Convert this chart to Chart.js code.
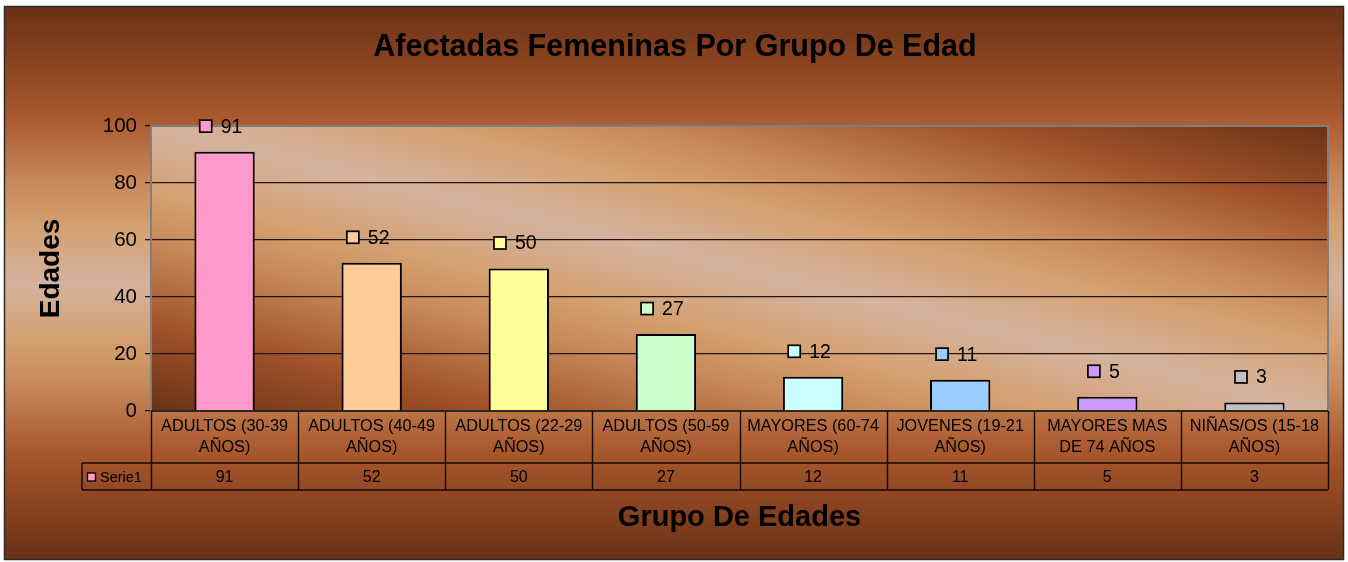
<!DOCTYPE html>
<html>
<head>
<meta charset="utf-8">
<script src="https://cdn.jsdelivr.net/npm/chart.js@4.4.0/dist/chart.umd.min.js"></script>
<style>
html,body{margin:0;padding:0;background:#ffffff;}
#wrap{width:1348px;height:562px;position:relative;}
</style>
</head>
<body>
<div id="wrap"><canvas id="c" width="1348" height="562"></canvas></div>
<script>
const chartTitle = 'Afectadas Femeninas Por Grupo De Edad';
const yAxisTitle = 'Edades';
const xAxisTitle = 'Grupo De Edades';
const seriesName = 'Serie1';
const categories = [
  ['ADULTOS (30-39', 'AÑOS)'],
  ['ADULTOS (40-49', 'AÑOS)'],
  ['ADULTOS (22-29', 'AÑOS)'],
  ['ADULTOS (50-59', 'AÑOS)'],
  ['MAYORES (60-74', 'AÑOS)'],
  ['JOVENES (19-21', 'AÑOS)'],
  ['MAYORES MAS', 'DE 74 AÑOS'],
  ['NIÑAS/OS (15-18', 'AÑOS)']
];
const values = [91, 52, 50, 27, 12, 11, 5, 3];
const barColors = ['#FF99CC', '#FFCC99', '#FFFF99', '#CCFFCC', '#CCFFFF', '#99CCFF', '#CC99FF', '#C0C0C0'];
const yTicks = [0, 20, 40, 60, 80, 100];

const FONT = '"Liberation Sans", Arial, Helvetica, sans-serif';
Chart.defaults.font.family = FONT;
Chart.defaults.color = '#000';

const bgStops = [
  [0.00, '#683116'], [0.10, '#8a4320'], [0.20, '#a9592d'], [0.32, '#c98a5c'],
  [0.40, '#d3a170'], [0.50, '#d5b29e'], [0.60, '#d3a170'], [0.68, '#c98a5c'],
  [0.80, '#a9592d'], [0.90, '#8a4320'], [1.00, '#683116']
];
const plotStops = [
  [0.00, '#6a3216'], [0.15, '#a0512a'], [0.30, '#c88a5c'], [0.38, '#d4a070'],
  [0.50, '#d6b39f'], [0.62, '#d4a070'], [0.70, '#c88a5c'], [0.85, '#a0512a'],
  [1.00, '#6a3216']
];

const backgroundPlugin = {
  id: 'bg',
  beforeDraw(chart) {
    const ctx = chart.ctx;
    ctx.save();
    let g = ctx.createLinearGradient(0, 6, 0, 560);
    bgStops.forEach(s => g.addColorStop(s[0], s[1]));
    ctx.fillStyle = g;
    ctx.fillRect(4, 6, 1340, 554);
    ctx.strokeStyle = '#2a2a2a';
    ctx.lineWidth = 1.5;
    ctx.strokeRect(4.5, 6.5, 1339, 553);
    const a = chart.chartArea;
    const W = a.right - a.left, H = a.bottom - a.top;
    const cx = (a.left + a.right) / 2, cy = (a.top + a.bottom) / 2;
    const L = Math.hypot(W, H);
    const nx = H / L, ny = -W / L, d = W * H / L;
    g = ctx.createLinearGradient(cx - nx * d, cy - ny * d, cx + nx * d, cy + ny * d);
    plotStops.forEach(s => g.addColorStop(s[0], s[1]));
    ctx.fillStyle = g;
    ctx.fillRect(a.left, a.top, W, H);
    ctx.restore();
  },
  beforeDatasetsDraw(chart) {
    const ctx = chart.ctx, a = chart.chartArea;
    ctx.save();
    ctx.strokeStyle = '#7f7f7f';
    ctx.lineWidth = 2;
    ctx.strokeRect(a.left, a.top, a.right - a.left, a.bottom - a.top);
    ctx.restore();
  }
};

const labelPlugin = {
  id: 'barLabels',
  afterDatasetsDraw(chart) {
    const ctx = chart.ctx;
    const meta = chart.getDatasetMeta(0);
    ctx.save();
    ctx.font = '19.5px ' + FONT;
    ctx.textBaseline = 'middle';
    ctx.textAlign = 'left';
    meta.data.forEach((bar, i) => {
      const txt = String(values[i]);
      const tw = ctx.measureText(txt).width;
      const sq = 12, gap = 8;
      const gw = sq + 1 + gap + tw;
      const x0 = bar.x - gw / 2 - 3.5;
      const yc = bar.y - 25.5;
      ctx.fillStyle = barColors[i];
      ctx.fillRect(x0, yc - sq / 2, sq, sq);
      ctx.strokeStyle = '#000';
      ctx.lineWidth = 1.7;
      ctx.strokeRect(x0, yc - sq / 2, sq, sq);
      ctx.fillStyle = '#000';
      ctx.fillText(txt, x0 + sq + 1 + gap, yc + 1);
    });
    ctx.restore();
  }
};

const tablePlugin = {
  id: 'dataTable',
  afterDraw(chart) {
    const ctx = chart.ctx, a = chart.chartArea, xs = chart.scales.x;
    const n = values.length;
    const catW = (a.right - a.left) / n;
    const top = a.bottom, mid = a.bottom + 52, bot = a.bottom + 79;
    const legL = 82;
    ctx.save();
    ctx.strokeStyle = '#140800';
    ctx.lineWidth = 1.4;
    ctx.beginPath();
    ctx.moveTo(a.left, top); ctx.lineTo(a.right, top);
    ctx.moveTo(legL, mid); ctx.lineTo(a.right, mid);
    ctx.moveTo(legL, bot); ctx.lineTo(a.right, bot);
    for (let i = 0; i <= n; i++) {
      const bx = Math.round(a.left + i * catW) + 0.5;
      ctx.moveTo(bx, top); ctx.lineTo(bx, bot);
    }
    ctx.moveTo(legL, mid); ctx.lineTo(legL, bot);
    ctx.stroke();
    ctx.fillStyle = '#000';
    ctx.font = '16px ' + FONT;
    ctx.textAlign = 'center';
    ctx.textBaseline = 'middle';
    const ry = (mid + bot) / 2 + 1;
    values.forEach((v, i) => {
      ctx.fillText(String(v), xs.getPixelForValue(i), ry);
    });
    ctx.fillStyle = barColors[0];
    ctx.fillRect(87.5, ry - 4.5, 8, 8);
    ctx.strokeStyle = '#000';
    ctx.lineWidth = 1.3;
    ctx.strokeRect(87.5, ry - 4.5, 8, 8);
    ctx.fillStyle = '#000';
    ctx.font = '14.5px ' + FONT;
    ctx.textAlign = 'left';
    ctx.fillText(seriesName, 100, ry + 0.5);
    ctx.restore();
  }
};

new Chart(document.getElementById('c'), {
  type: 'bar',
  data: {
    labels: categories,
    datasets: [{
      label: seriesName,
      data: values,
      backgroundColor: barColors,
      borderColor: '#000',
      borderWidth: 2,
      borderSkipped: 'bottom',
      categoryPercentage: 1,
      barPercentage: 0.41
    }]
  },
  options: {
    responsive: false,
    animation: false,
    devicePixelRatio: 1,
    layout: { padding: { left: 22, right: 20, top: 0, bottom: 6 } },
    plugins: {
      legend: { display: false },
      tooltip: { enabled: false },
      title: {
        display: true,
        text: chartTitle,
        color: '#000',
        font: { size: 30.5, weight: 'bold', family: FONT },
        padding: { top: 29.2, bottom: 60.2 }
      }
    },
    scales: {
      x: {
        type: 'category',
        offset: true,
        grid: { display: false, drawTicks: false, drawOnChartArea: false },
        border: { display: true, color: '#140800', width: 1.4 },
        ticks: {
          autoSkip: false,
          maxRotation: 0,
          minRotation: 0,
          padding: 5.5,
          color: '#000',
          font: { size: 16.3, family: FONT, lineHeight: 1.28 }
        },
        title: {
          display: true,
          text: xAxisTitle,
          color: '#000',
          font: { size: 29, weight: 'bold', family: FONT },
          padding: { top: 0, bottom: 20.5 }
        },
        afterFit(scale) { scale.height = 145; }
      },
      y: {
        min: 0,
        max: 100,
        afterBuildTicks(scale) { scale.ticks = yTicks.map(v => ({ value: v })); },
        grid: {
          color: ctx => (ctx.tick && (ctx.tick.value === 0 || ctx.tick.value === 100)) ? 'rgba(0,0,0,0)' : '#24140a',
          tickColor: '#24140a',
          tickLength: 6,
          lineWidth: 1.3
        },
        border: { display: false },
        ticks: {
          padding: 8,
          color: '#000',
          font: { size: 20.5, family: FONT }
        },
        title: {
          display: true,
          text: yAxisTitle,
          color: '#000',
          font: { size: 28, weight: 'bold', family: FONT },
          padding: { top: 12.7, bottom: 0 }
        },
        afterFit(scale) { scale.width = 129; }
      }
    }
  },
  plugins: [backgroundPlugin, labelPlugin, tablePlugin]
});
</script>
</body>
</html>
